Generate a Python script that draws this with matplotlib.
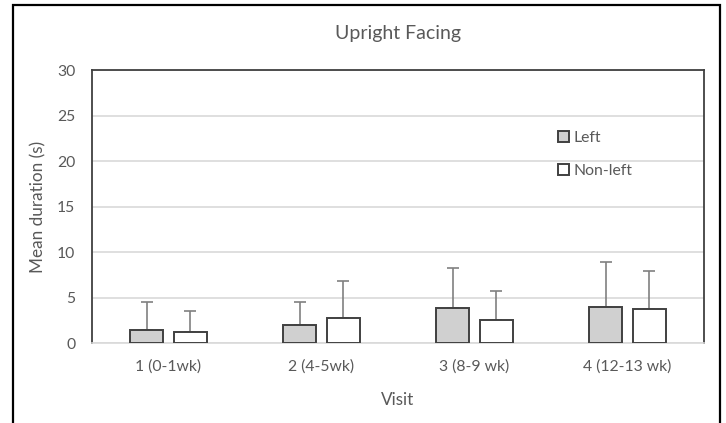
import matplotlib.pyplot as plt
import matplotlib.patches as mpatches
import numpy as np

visits = ['1 (0-1wk)', '2 (4-5wk)', '3 (8-9 wk)', '4 (12-13 wk)']
left_mean = [1.4, 2.0, 3.8, 4.0]
left_sd = [3.1, 2.5, 4.4, 4.9]
nonleft_mean = [1.2, 2.7, 2.5, 3.7]
nonleft_sd = [2.3, 4.1, 3.2, 4.2]

plt.rcParams['font.family'] = ['Lato', 'DejaVu Sans']
txt = '#595959'

fig = plt.figure(figsize=(7.26, 4.23), dpi=100)
ax = fig.add_axes([0.1267, 0.1891, 0.8430, 0.6454])

x = np.arange(len(visits))
w = 0.22
off = 0.143

ax.bar(x - off, left_mean, w, color='#d0d0d0', edgecolor='#404040', linewidth=1.4, zorder=3, label='Left')
ax.bar(x + off, nonleft_mean, w, color='white', edgecolor='#404040', linewidth=1.4, zorder=3, label='Non-left')

# one-sided error bars (upwards only)
ax.errorbar(x - off, left_mean, yerr=[np.zeros(4), left_sd], fmt='none',
            ecolor='#808080', elinewidth=1.2, capsize=4, capthick=1.2, zorder=2)
ax.errorbar(x + off, nonleft_mean, yerr=[np.zeros(4), nonleft_sd], fmt='none',
            ecolor='#808080', elinewidth=1.2, capsize=4, capthick=1.2, zorder=2)

ax.set_xlim(-0.5, 3.5)
ax.set_ylim(0, 30)
ax.set_yticks(np.arange(0, 31, 5))
ax.set_xticks(x)
ax.set_xticklabels(visits)
ax.tick_params(axis='both', length=0, colors=txt, labelsize=11.3)
ax.tick_params(axis='y', pad=12)
ax.tick_params(axis='x', pad=12)

ax.yaxis.grid(True, color='#d9d9d9', linewidth=1.2, zorder=0)
ax.set_axisbelow(True)

for s in ['left', 'top', 'right']:
    ax.spines[s].set_color('#404040')
    ax.spines[s].set_linewidth(1.3)
ax.spines['bottom'].set_color('#d9d9d9')
ax.spines['bottom'].set_linewidth(1.2)

ax.set_xlabel('Visit', color=txt, fontsize=12.3, labelpad=13)
ax.set_ylabel('Mean duration (s)', color=txt, fontsize=12.3, labelpad=8)
ax.set_title('Upright Facing', color=txt, fontsize=14, pad=22)

leg = ax.legend(loc='upper left', bbox_to_anchor=(0.752, 0.80), frameon=False,
                handlelength=0.7, handleheight=0.7, handletextpad=0.25,
                labelspacing=1.2, fontsize=11.3, borderaxespad=0)
for t in leg.get_texts():
    t.set_color(txt)

# outer chart frame
fig.patches.append(mpatches.Rectangle((0.018, -0.02), 0.974, 1.008, transform=fig.transFigure,
                                      fill=False, edgecolor='black', linewidth=1.6))

fig.savefig('out.png', dpi=100)
